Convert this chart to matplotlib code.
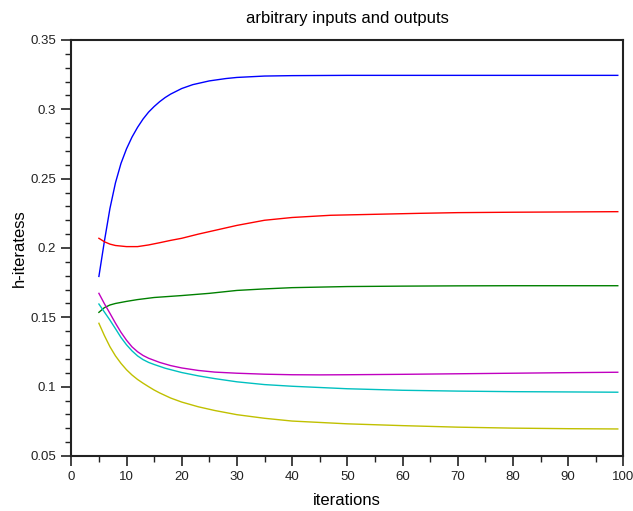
import matplotlib
matplotlib.use("Agg")
import matplotlib.pyplot as plt
from matplotlib.ticker import MultipleLocator, FuncFormatter

plt.rcParams['font.family'] = ['Liberation Sans', 'DejaVu Sans']

x_blue = [5, 6, 7, 8, 9, 10, 11, 12, 13, 14, 15, 16, 17, 18, 20, 22, 25, 28, 30, 35, 40, 50, 60, 70, 80, 90, 99]
y_blue = [0.1795, 0.2050, 0.2285, 0.2470, 0.2610, 0.2715, 0.2800, 0.2870, 0.2930, 0.2980, 0.3020, 0.3055,
          0.3085, 0.3110, 0.3150, 0.3178, 0.3205, 0.3222, 0.3230, 0.3240, 0.3243, 0.3245, 0.3245, 0.3245,
          0.3245, 0.3245, 0.3245]

x_red = [5, 6, 7, 8, 10, 12, 14, 16, 18, 20, 23, 25, 30, 35, 40, 47, 55, 63, 70, 80, 90, 99]
y_red = [0.207, 0.2045, 0.2028, 0.2018, 0.201, 0.201, 0.2022, 0.2038, 0.2055, 0.207, 0.210, 0.2118, 0.2163,
         0.2200, 0.2220, 0.2236, 0.2243, 0.2250, 0.2255, 0.2258, 0.2260, 0.2262]

x_green = [5, 6, 7, 8, 10, 12, 15, 20, 25, 30, 35, 40, 50, 60, 70, 80, 90, 99]
y_green = [0.1536, 0.157, 0.1589, 0.160, 0.1615, 0.1628, 0.1643, 0.1657, 0.1673, 0.1694, 0.1705, 0.1714,
           0.1722, 0.1725, 0.1727, 0.1728, 0.1728, 0.1728]

x_mag = [5, 6, 7, 8, 9, 10, 11, 12, 13, 14, 15, 16, 18, 20, 23, 26, 30, 35, 40, 45, 50, 60, 70, 80, 90, 99]
y_mag = [0.1673, 0.1598, 0.1529, 0.1458, 0.1392, 0.1335, 0.1287, 0.1252, 0.1225, 0.1205, 0.119, 0.1175,
         0.1152, 0.1135, 0.1117, 0.1105, 0.1097, 0.109, 0.1086, 0.1085, 0.1086, 0.1089, 0.1093, 0.1097, 0.1101,
         0.1104]

x_cyan = [5, 6, 7, 8, 9, 10, 11, 12, 13, 14, 15, 17, 20, 23, 26, 30, 35, 40, 50, 60, 70, 80, 90, 99]
y_cyan = [0.1596, 0.1538, 0.148, 0.1418, 0.1355, 0.1302, 0.1258, 0.1222, 0.1195, 0.1175, 0.116, 0.1133,
          0.1102, 0.1078, 0.1058, 0.1035, 0.1015, 0.1003, 0.0985, 0.0974, 0.0968, 0.0964, 0.0962, 0.096]

x_yel = [5, 6, 7, 8, 9, 10, 11, 12, 13, 14, 15, 16, 18, 20, 23, 26, 30, 35, 40, 50, 60, 70, 80, 90, 99]
y_yel = [0.1457, 0.1368, 0.1288, 0.1222, 0.1168, 0.1122, 0.1084, 0.1052, 0.1025, 0.1, 0.0976, 0.0955,
         0.0918, 0.0889, 0.0855, 0.0828, 0.0798, 0.0772, 0.0752, 0.0732, 0.0719, 0.0708, 0.0701, 0.0697, 0.0695]

series = [
    (x_blue, y_blue, '#0000ff'),
    (x_red, y_red, '#ff0000'),
    (x_green, y_green, '#008000'),
    (x_mag, y_mag, '#c000c0'),
    (x_cyan, y_cyan, '#00c0c0'),
    (x_yel, y_yel, '#c0c000'),
]

fig = plt.figure(figsize=(6.33, 5.11), dpi=100)
ax = fig.add_axes([71.3 / 633, 1 - 456 / 511, (623.3 - 71.3) / 633, (456 - 40) / 511])

for xs, ys, c in series:
    ax.plot(xs, ys, color=c, linewidth=1.0)

ax.set_xlim(0, 100)
ax.set_ylim(0.05, 0.35)
ax.xaxis.set_major_locator(MultipleLocator(10))
ax.xaxis.set_minor_locator(MultipleLocator(5))
ax.yaxis.set_major_locator(MultipleLocator(0.05))
ax.yaxis.set_minor_locator(MultipleLocator(0.01))
ax.yaxis.set_major_formatter(FuncFormatter(lambda v, p: ('%.2f' % v).rstrip('0').rstrip('.')))

ax.tick_params(which='major', direction='out', length=7, width=1.2, labelsize=9.5, colors='#222222', pad=4)
ax.tick_params(which='minor', direction='out', length=4, width=1.0, colors='#222222')
ax.tick_params(top=False, right=False, which='both')
for s in ax.spines.values():
    s.set_linewidth(1.5)
    s.set_color('#222222')

ax.set_title('arbitrary inputs and outputs', fontsize=12, pad=12)
ax.set_xlabel('iterations', fontsize=12, labelpad=7)
ax.set_ylabel('h-iteratess', fontsize=12, labelpad=2)

fig.savefig('out.png', dpi=100)
